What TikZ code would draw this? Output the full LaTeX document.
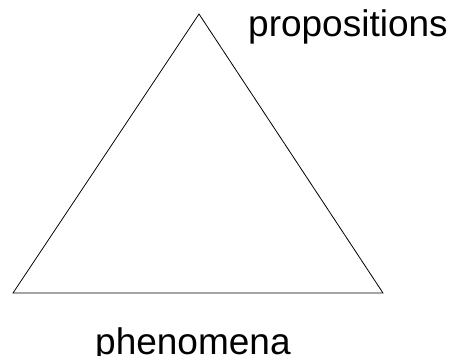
\documentclass[tikz,border=0pt]{standalone}
\usepackage{fontspec}
\setmainfont{Liberation Sans}
\usetikzlibrary{positioning}

\begin{document}
\begin{tikzpicture}[x=1pt,y=-1pt,
  lbl/.style={inner sep=0pt,anchor=base west,font=\fontsize{37}{44}\selectfont}
]
\useasboundingbox (0,0) rectangle (456,356);
\coordinate (top) at (199,14);
\coordinate (bl) at (13,293);
\coordinate (br) at (383,293);
\draw[line width=0.8pt] (top) -- (bl) -- (br) -- cycle;

\node[lbl] (prop) at (248,36) {propositions};
\node[lbl] (phen) at (95,354.5) {phenomena};
\end{tikzpicture}
\end{document}
